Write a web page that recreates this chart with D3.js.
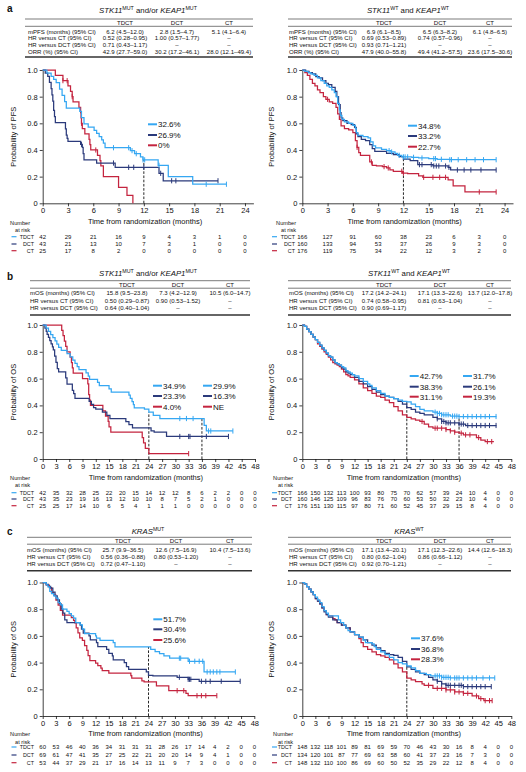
<!DOCTYPE html>
<html><head><meta charset="utf-8">
<script src="https://cdn.jsdelivr.net/npm/d3@7"></script>
<style>
body{margin:0;background:#fff}
text{font-family:"Liberation Sans",Arial,Helvetica,sans-serif;fill:#111}
</style>
</head><body><script>
// ================= DATA =================
const arms = ["TDCT","DCT","CT"];
const pfsTicks = [0,3,6,9,12,15,18,21,24];
const osTicks = [0,3,6,9,12,15,18,21,24,27,30,33,36,39,42,45,48];
const yTicks = [0,0.2,0.4,0.6,0.8,1.0];
const yTickLabels = ["0","0.2","0.4","0.6","0.8","1.0"];

// ---- a left: PFS, STK11mut and/or KEAP1mut  [time, survival]
const aL_TDCT = [[0,1],[0.5,0.976],[1,0.952],[1.3,0.929],[1.6,0.905],[2,0.857],[2.3,0.81],[2.6,0.762],[2.8,0.714],[4.4,0.69],[4.6,0.643],[4.9,0.595],[5.4,0.571],[6.1,0.548],[6.4,0.524],[6.7,0.5],[7.0,0.476],[7.2,0.452],[7.4,0.417],[10.4,0.395],[10.9,0.372],[11.6,0.349],[11.9,0.326],[13.7,0.285],[14.9,0.2],[17.8,0.143]];
const aL_TDCT_end = 21.8;
const aL_TDCT_cens = [8.4,10.2,10.6,11.1,11.9,12.1,13.8,19.4,21.8];
const aL_DCT = [[0,1],[0.3,0.977],[0.6,0.953],[0.8,0.907],[1.0,0.86],[1.1,0.814],[1.2,0.767],[1.3,0.698],[1.4,0.651],[1.5,0.605],[2.7,0.558],[2.8,0.512],[2.9,0.488],[3.0,0.465],[4.5,0.442],[4.7,0.419],[4.8,0.372],[4.9,0.326],[6.4,0.302],[8.6,0.27],[13.8,0.225],[14.3,0.169]];
const aL_DCT_end = 20.8;
const aL_DCT_cens = [4.6,8.4,10.2,10.8,12.0,14.0,15.3,15.8,20.8];
const aL_CT = [[0,1],[1.5,0.96],[2.4,0.92],[3.0,0.88],[3.3,0.84],[3.5,0.8],[3.6,0.76],[4.3,0.72],[4.5,0.68],[4.55,0.64],[4.6,0.6],[4.7,0.56],[5.0,0.52],[5.5,0.48],[5.6,0.44],[5.7,0.4],[6.5,0.36],[6.8,0.32],[6.9,0.28],[7.2,0.2],[9.0,0.12],[10.0,0.06],[10.7,0]];
const aL_CT_end = 10.7;
const aL_CT_cens = [2.4,2.9,3.5,4.6,6.3];
const aL_risk_TDCT = [42,29,21,16,9,4,3,1,0];
const aL_risk_DCT = [43,21,13,10,7,3,1,0,0];
const aL_risk_CT = [25,17,8,2,0,0,0,0,0];
const aL_legend = ["32.6%","26.9%","0%"];
const aL_landmarks = [12];

// ---- a right: PFS, STK11wt and KEAP1wt
const aR_TDCT = [[0,1],[0.3,0.99],[0.7,0.98],[1.0,0.97],[1.4,0.96],[1.8,0.94],[2.2,0.92],[2.6,0.9],[2.9,0.88],[3.2,0.87],[3.5,0.85],[3.8,0.83],[4.0,0.8],[4.2,0.75],[4.4,0.7],[4.5,0.66],[4.7,0.63],[5.0,0.61],[5.5,0.6],[6.0,0.585],[6.3,0.56],[6.4,0.53],[6.6,0.51],[7.2,0.5],[7.8,0.49],[8.1,0.46],[8.4,0.43],[8.7,0.415],[9.4,0.405],[10.0,0.395],[10.5,0.385],[11.0,0.375],[11.3,0.36],[11.8,0.348],[13.0,0.345],[13.8,0.34],[15.0,0.335],[16.0,0.33],[17.5,0.327]];
const aR_TDCT_end = 23.0;
const aR_TDCT_cens = [10.3,10.6,11.5,12.0,12.2,12.5,13.2,14.2,15.6,15.8,16.5,17.5,17.7,18.5,19.5,20.5,21.5,23.0];
const aR_DCT = [[0,1],[0.4,0.99],[0.8,0.98],[1.2,0.97],[1.6,0.95],[2.0,0.94],[2.4,0.92],[2.8,0.9],[3.1,0.89],[3.5,0.87],[3.9,0.84],[4.1,0.8],[4.3,0.74],[4.5,0.68],[4.6,0.64],[4.8,0.62],[5.3,0.6],[5.8,0.59],[6.2,0.57],[6.4,0.52],[6.6,0.5],[7.0,0.48],[7.5,0.47],[8.0,0.44],[8.3,0.41],[8.6,0.39],[10.0,0.375],[10.8,0.365],[11.5,0.35],[12.0,0.332],[12.8,0.32],[13.7,0.29],[15.5,0.28],[17.3,0.27],[17.6,0.25]];
const aR_DCT_end = 23.0;
const aR_DCT_cens = [13.9,14.2,15.3,15.6,15.9,16.2,17.0,17.4,18.4,19.2,20.0,21.2,23.0];
const aR_CT = [[0,1],[0.3,0.98],[0.6,0.96],[0.9,0.93],[1.2,0.9],[1.5,0.88],[1.8,0.85],[2.1,0.83],[2.5,0.8],[2.8,0.78],[3.2,0.76],[3.6,0.75],[4.0,0.72],[4.2,0.67],[4.4,0.63],[4.6,0.58],[5.0,0.56],[5.5,0.55],[6.0,0.53],[6.3,0.47],[6.5,0.42],[6.7,0.38],[6.9,0.36],[8.0,0.31],[8.3,0.285],[8.8,0.28],[9.5,0.275],[10.0,0.265],[10.4,0.25],[10.8,0.24],[11.9,0.227],[12.5,0.222],[13.8,0.205],[14.3,0.195],[17.3,0.175],[17.9,0.13],[19.3,0.085]];
const aR_CT_end = 23.0;
const aR_CT_cens = [3.0,6.5,8.2,9.7,10.2,11.8,12.0,14.4,15.5,16.3,17.0,21.0,23.0];
const aR_risk_TDCT = [166,127,91,60,38,23,6,3,0];
const aR_risk_DCT = [160,133,94,53,37,26,9,3,0];
const aR_risk_CT = [176,119,75,34,22,12,3,2,0];
const aR_legend = ["34.8%","33.2%","22.7%"];
const aR_landmarks = [12];

// ---- b left: OS, STK11mut and/or KEAP1mut
const bL_TDCT = [[0,1],[0.8,0.976],[1.3,0.952],[1.8,0.929],[2.3,0.905],[2.8,0.881],[3.2,0.857],[3.6,0.833],[4.2,0.81],[5.5,0.786],[6.2,0.762],[6.8,0.738],[7.3,0.714],[7.8,0.69],[8.2,0.667],[9.8,0.643],[10.3,0.619],[10.6,0.595],[12.4,0.571],[12.8,0.548],[15.0,0.524],[15.5,0.5],[19.5,0.476],[19.8,0.452],[20.2,0.429],[20.5,0.405],[20.7,0.381],[23.0,0.372],[24.0,0.349],[25.0,0.326],[26.5,0.302],[36.5,0.251],[37.0,0.209]];
const bL_TDCT_end = 43.0;
const bL_TDCT_cens = [31.0,32.5,34.0,37.5,38.0,43.0];
const bL_DCT = [[0,1],[0.5,0.977],[0.8,0.953],[1.0,0.93],[1.3,0.907],[1.6,0.884],[1.9,0.86],[2.2,0.837],[2.4,0.814],[2.7,0.767],[3.0,0.721],[3.3,0.674],[3.6,0.651],[5.2,0.605],[5.5,0.558],[6.7,0.512],[7.0,0.488],[7.3,0.453],[10.5,0.43],[11.0,0.407],[11.5,0.384],[12.0,0.372],[13.5,0.349],[14.5,0.326],[15.2,0.302],[18.8,0.279],[19.5,0.256],[20.3,0.233],[24.5,0.21],[25.2,0.2],[28.0,0.168]];
const bL_DCT_end = 42.0;
const bL_DCT_cens = [31.0,33.0,33.3,37.0,42.0];
const bL_CT = [[0,1],[4.3,0.96],[4.6,0.92],[4.9,0.88],[5.2,0.84],[5.5,0.8],[6.2,0.76],[6.5,0.72],[6.7,0.68],[6.9,0.64],[9.0,0.6],[10.2,0.56],[10.4,0.48],[10.6,0.44],[10.8,0.4],[13.6,0.36],[14.2,0.32],[14.8,0.28],[15.0,0.24],[15.4,0.2],[22.5,0.16],[22.8,0.12],[23.2,0.08],[24.0,0.04]];
const bL_CT_end = 33.0;
const bL_CT_cens = [33.0];
const bL_risk_TDCT = [42,35,32,28,25,22,20,15,14,12,12,8,6,2,2,0,0];
const bL_risk_DCT = [43,35,23,19,16,13,12,10,10,8,7,5,2,1,0,0,0];
const bL_risk_CT = [25,25,17,14,10,6,5,4,1,1,1,0,0,0,0,0,0];
const bL_legend24 = ["34.9%","23.3%","4.0%"];
const bL_legend36 = ["29.9%","16.3%","NE"];
const bL_landmarks = [24,36];

// ---- b right: OS, STK11wt and KEAP1wt
const bR_TDCT = [[0,1],[0.5,0.99],[1,0.97],[1.5,0.95],[2,0.93],[2.5,0.91],[3,0.89],[3.5,0.87],[4,0.85],[4.5,0.83],[5,0.81],[5.5,0.79],[6,0.77],[6.5,0.76],[7,0.74],[7.5,0.72],[8,0.71],[8.5,0.7],[9,0.69],[9.5,0.68],[10,0.66],[10.5,0.65],[11,0.64],[11.5,0.63],[12,0.62],[13,0.6],[14,0.58],[15,0.56],[15.5,0.55],[16,0.53],[17,0.51],[18,0.49],[19,0.47],[20,0.46],[21,0.45],[22,0.44],[23,0.43],[24,0.427],[25,0.41],[26,0.39],[27,0.37],[28,0.36],[30,0.35],[31,0.34],[32,0.33],[34,0.32],[36,0.317]];
const bR_TDCT_end = 44.6;
const bR_TDCT_cens = [30.5,31,31.5,32,32.5,33,33.5,34.5,35,35.5,36,37,38,39,40,41,42,43,44.5];
const bR_DCT = [[0,1],[0.5,0.99],[1,0.97],[1.5,0.95],[2,0.93],[2.5,0.91],[3,0.89],[3.5,0.87],[4,0.85],[4.5,0.83],[5,0.81],[5.5,0.79],[6,0.77],[6.5,0.76],[7,0.74],[7.5,0.72],[8,0.71],[8.5,0.7],[9,0.68],[9.5,0.67],[10,0.65],[10.5,0.64],[11,0.63],[12,0.61],[13,0.58],[14,0.56],[15,0.54],[16,0.52],[17,0.5],[18,0.48],[19,0.47],[20,0.46],[21,0.45],[22,0.43],[23,0.41],[24,0.383],[25,0.37],[26,0.35],[27,0.34],[28,0.33],[30,0.31],[31,0.3],[32,0.28],[33,0.27],[36,0.261],[37.5,0.25]];
const bR_DCT_end = 44.6;
const bR_DCT_cens = [31,32,32.5,33,33.5,34,35,36,36.5,37,38,39,40,41,42,43,44.5];
const bR_CT = [[0,1],[0.5,0.99],[1,0.97],[1.5,0.95],[2,0.93],[2.5,0.91],[3,0.89],[3.5,0.86],[4,0.84],[4.5,0.82],[5,0.8],[5.5,0.78],[6,0.76],[6.5,0.74],[7,0.72],[7.5,0.71],[8,0.7],[8.5,0.69],[9,0.67],[9.5,0.65],[10,0.63],[10.5,0.62],[11,0.61],[12,0.59],[13,0.56],[14,0.53],[15,0.51],[16,0.49],[17,0.47],[18,0.46],[19,0.44],[20,0.42],[21,0.39],[22,0.36],[23,0.33],[24,0.311],[25,0.3],[26,0.29],[27,0.28],[28,0.26],[29,0.24],[30,0.23],[33,0.22],[34,0.21],[35,0.2],[36,0.193],[37,0.18],[40,0.16],[41,0.14],[42,0.13]];
const bR_CT_end = 44.0;
const bR_CT_cens = [27.5,30.5,31,32,33,34,35,36.5,37.5,38.5,40.5,42.5,43.5];
const bR_risk_TDCT = [166,150,132,113,100,93,80,75,70,62,57,39,24,10,4,0,0];
const bR_risk_DCT = [160,146,125,109,96,83,76,70,60,53,50,32,23,10,4,0,0];
const bR_risk_CT = [176,151,130,115,97,80,71,60,52,45,37,29,15,8,4,0,0];
const bR_legend24 = ["42.7%","38.3%","31.1%"];
const bR_legend36 = ["31.7%","26.1%","19.3%"];
const bR_landmarks = [24,36];

// ---- c left: OS, KRASmut
const cL_TDCT = [[0,1],[0.8,0.983],[1.2,0.967],[1.6,0.933],[2.0,0.917],[2.5,0.9],[3.0,0.883],[3.5,0.85],[4.0,0.833],[4.5,0.8],[5.5,0.783],[6.0,0.767],[6.5,0.75],[7.0,0.733],[7.5,0.7],[8.5,0.683],[9.0,0.65],[9.5,0.617],[12.0,0.6],[12.2,0.583],[13.0,0.567],[16.0,0.55],[16.4,0.517],[24.5,0.5],[25.5,0.483],[26.5,0.467],[27.5,0.45],[28.8,0.433],[33.0,0.41],[36.6,0.33]];
const cL_TDCT_end = 43.7;
const cL_TDCT_cens = [31.0,31.3,33.3,34.5,35.5,36.3,37.3,38,38.7,39.5,40.2,43.7];
const cL_DCT = [[0,1],[0.8,0.986],[1.3,0.971],[1.8,0.957],[2.3,0.928],[2.8,0.9],[3.3,0.87],[3.8,0.84],[4.2,0.8],[4.6,0.77],[5.0,0.72],[5.5,0.7],[8.5,0.68],[8.8,0.65],[9.2,0.62],[10.5,0.6],[10.8,0.57],[12.2,0.55],[12.5,0.52],[14.5,0.5],[15.0,0.47],[15.8,0.45],[16.0,0.42],[18.5,0.4],[19.0,0.37],[19.5,0.35],[23.5,0.33],[24.0,0.304],[25.0,0.3],[30.5,0.29],[33.0,0.275],[35.5,0.26]];
const cL_DCT_end = 44.8;
const cL_DCT_cens = [31.0,33.0,33.3,33.6,36.0,37.0,38.0,40.5,44.8];
const cL_CT = [[0,1],[0.8,0.981],[1.5,0.962],[2.0,0.925],[2.5,0.906],[3.0,0.868],[3.5,0.83],[4.0,0.792],[4.5,0.755],[6.5,0.736],[7.0,0.717],[7.3,0.698],[7.6,0.66],[8.0,0.623],[8.4,0.585],[9.0,0.566],[9.5,0.528],[10.0,0.491],[10.3,0.453],[10.7,0.415],[12.0,0.396],[12.5,0.377],[13.2,0.358],[13.5,0.34],[15.0,0.321],[20.0,0.302],[20.2,0.283],[22.5,0.264],[23.0,0.256],[25.8,0.226],[28.6,0.19],[32.5,0.17],[33.0,0.152]];
const cL_CT_end = 39.5;
const cL_CT_cens = [30.5,32.0,35.0,36.0,37.0,39.5];
const cL_risk_TDCT = [60,53,46,40,36,34,31,31,31,28,26,17,14,4,2,0,0];
const cL_risk_DCT = [69,61,47,41,35,27,25,22,21,20,20,14,9,4,1,0,0];
const cL_risk_CT = [53,44,37,29,21,17,16,14,13,11,9,7,3,0,0,0,0];
const cL_legend = ["51.7%","30.4%","25.6%"];
const cL_landmarks = [24];

// ---- c right: OS, KRASwt
const cR_TDCT = [[0,1],[0.5,0.99],[1,0.97],[1.5,0.95],[2,0.93],[2.5,0.91],[3,0.89],[3.5,0.87],[4,0.85],[4.5,0.82],[5,0.79],[5.5,0.77],[6,0.75],[8.3,0.72],[8.8,0.7],[9.5,0.68],[10,0.66],[10.5,0.64],[11,0.63],[12,0.61],[13,0.59],[14,0.57],[14.5,0.55],[16,0.54],[16.5,0.52],[17,0.5],[18,0.48],[19,0.46],[20,0.44],[21,0.42],[22,0.4],[23,0.39],[24,0.376],[25,0.36],[26,0.34],[27,0.32],[28.5,0.31],[29.5,0.3],[32,0.29],[34,0.285]];
const cR_TDCT_end = 44.2;
const cR_TDCT_cens = [30.5,31,31.5,32,32.5,33,33.5,34,35,35.5,36,37,38,39,40,41.5,43,44.2];
const cR_DCT = [[0,1],[0.5,0.99],[1,0.97],[1.5,0.95],[2,0.93],[2.5,0.91],[3,0.88],[3.5,0.86],[4,0.84],[4.5,0.81],[5,0.78],[5.5,0.76],[6,0.74],[7,0.72],[8,0.7],[9,0.68],[10,0.66],[11,0.63],[12,0.61],[13,0.59],[14,0.57],[15,0.55],[16,0.53],[17,0.51],[18,0.49],[19,0.47],[20,0.46],[21,0.455],[22,0.44],[23,0.41],[24,0.368],[25,0.35],[26,0.33],[27,0.32],[28,0.31],[29,0.29],[30,0.27],[31,0.26],[32,0.24],[33,0.23],[37,0.22]];
const cR_DCT_end = 43.4;
const cR_DCT_cens = [31,32,33,33.5,34,35,36,36.5,37,38,39,40,41,42,43.4];
const cR_CT = [[0,1],[0.5,0.99],[1,0.97],[1.5,0.95],[2,0.93],[2.5,0.91],[3,0.88],[3.5,0.86],[4,0.84],[4.5,0.81],[5,0.79],[5.5,0.76],[6,0.75],[7,0.73],[7.5,0.72],[8,0.7],[9,0.68],[10,0.66],[11,0.63],[12,0.61],[13,0.58],[13.5,0.55],[14,0.52],[15,0.5],[16,0.48],[17,0.46],[18,0.45],[19,0.44],[20,0.42],[21,0.39],[22,0.36],[23,0.33],[24,0.283],[25,0.27],[26,0.257],[27.5,0.24],[28,0.23],[30,0.207],[33,0.195],[35,0.18],[37,0.17],[39,0.15],[40.5,0.13],[41.7,0.115]];
const cR_CT_end = 43.6;
const cR_CT_cens = [29,31,32,33,34,35,36,37,38,40,41,42,43,43.6];
const cR_risk_TDCT = [148,132,118,101,89,81,69,59,70,46,43,30,16,8,4,0,0];
const cR_risk_DCT = [134,120,101,87,77,69,63,58,60,41,37,23,16,7,3,0,0];
const cR_risk_CT = [148,132,110,100,86,69,60,50,52,35,29,22,12,8,4,0,0];
const cR_legend = ["37.6%","36.8%","28.3%"];
const cR_landmarks = [24];

// ---- tables
const tblHeader = ["TDCT","DCT","CT"];
const aL_table = [["mPFS (months) (95% CI)","6.2 (4.5–12.0)","2.8 (1.5–4.7)","5.1 (4.1–6.4)"],["HR versus CT (95% CI)","0.52 (0.28–0.95)","1.00 (0.57–1.77)","–"],["HR versus DCT (95% CI)","0.71 (0.43–1.17)","–","–"],["ORR (%) (95% CI)","42.9 (27.7–59.0)","30.2 (17.2–46.1)","28.0 (12.1–49.4)"]];
const aR_table = [["mPFS (months) (95% CI)","6.9 (6.1–8.5)","6.5 (6.3–8.2)","6.1 (4.8–6.5)"],["HR versus CT (95% CI)","0.69 (0.53–0.89)","0.74 (0.57–0.96)","–"],["HR versus DCT (95% CI)","0.93 (0.71–1.21)","–","–"],["ORR (%) (95% CI)","47.9 (40.0–55.8)","49.4 (41.2–57.5)","23.6 (17.5–30.6)"]];
const bL_table = [["mOS (months) (95% CI)","15.8 (9.5–23.8)","7.3 (4.2–12.9)","10.5 (6.0–14.7)"],["HR versus CT (95% CI)","0.50 (0.29–0.87)","0.90 (0.53–1.52)","–"],["HR versus DCT (95% CI)","0.64 (0.40–1.04)","–","–"]];
const bR_table = [["mOS (months) (95% CI)","17.2 (14.2–24.1)","17.1 (13.3–22.6)","13.7 (12.0–17.8)"],["HR versus CT (95% CI)","0.74 (0.58–0.95)","0.81 (0.63–1.04)","–"],["HR versus DCT (95% CI)","0.90 (0.69–1.17)","–","–"]];
const cL_table = [["mOS (months) (95% CI)","25.7 (9.9–36.5)","12.6 (7.5–16.9)","10.4 (7.5–13.6)"],["HR versus CT (95% CI)","0.56 (0.36–0.88)","0.80 (0.53–1.20)","–"],["HR versus DCT (95% CI)","0.72 (0.47–1.10)","–","–"]];
const cR_table = [["mOS (months) (95% CI)","17.1 (13.4–20.1)","17.1 (12.3–22.6)","14.4 (12.6–18.3)"],["HR versus CT (95% CI)","0.80 (0.62–1.04)","0.86 (0.66–1.12)","–"],["HR versus DCT (95% CI)","0.92 (0.70–1.21)","–","–"]];

const titleMut = [["STK11","i"],["MUT","sup"],[" and/or ",""],["KEAP1","i"],["MUT","sup"]];
const titleWt = [["STK11","i"],["WT","sup"],[" and ",""],["KEAP1","i"],["WT","sup"]];
const titleKrasMut = [["KRAS","i"],["MUT","sup"]];
const titleKrasWt = [["KRAS","i"],["WT","sup"]];

// ================= DRAWING =================
const COL = {TDCT:"#35a7f2", DCT:"#2b3a7b", CT:"#c4243f"};
const TFS = 6.05;
const svg = d3.select("body").append("svg").attr("width",526).attr("height",772);

function survAt(curve,t){let s=1;for(const [tt,ss] of curve){if(tt<=t)s=ss;else break;}return s;}

function richText(g,x,y,parts,size,anchor){
  const t=g.append("text").attr("x",x).attr("y",y).attr("font-size",size).attr("text-anchor",anchor||"middle");
  let shifted=false;
  parts.forEach(([s,st])=>{
    const ts=t.append("tspan").text(s);
    if(st==="i") ts.attr("font-style","italic");
    if(st==="sup"){ts.attr("font-size",size*0.68).attr("dy",-size*0.38);shifted=true;}
    else if(shifted){ts.attr("dy",size*0.38);shifted=false;}
  });
  return t;
}

function drawTable(T){
  const g=svg.append("g");
  richText(g,T.titleX,T.titleY,T.title,7.8);
  g.append("line").attr("x1",T.x0).attr("x2",T.x1).attr("y1",T.top).attr("y2",T.top).attr("stroke","#222").attr("stroke-width",0.6);
  g.append("line").attr("x1",T.x0).attr("x2",T.x1).attr("y1",T.headRule).attr("y2",T.headRule).attr("stroke","#222").attr("stroke-width",0.6);
  g.append("line").attr("x1",T.x0).attr("x2",T.x1).attr("y1",T.bot).attr("y2",T.bot).attr("stroke","#333").attr("stroke-width",1.4);
  tblHeader.forEach((h,i)=>g.append("text").attr("x",T.cols[i]).attr("y",T.headY).attr("font-size",TFS).attr("text-anchor","middle").text(h));
  T.rows.forEach((r,ri)=>{
    g.append("text").attr("x",T.labelX).attr("y",T.rowY[ri]).attr("font-size",TFS).text(r[0]);
    for(let c=1;c<4;c++) g.append("text").attr("x",T.cols[c-1]).attr("y",T.rowY[ri]).attr("font-size",TFS).attr("text-anchor","middle").text(r[c]);
  });
}

function drawPanel(P){
  const g=svg.append("g");
  const x=d3.scaleLinear().domain([0,P.xmax]).range([P.x0,P.x1]);
  const y=d3.scaleLinear().domain([0,1]).range([P.yBot,P.yTop]);
  const xa=g.append("g").attr("transform",`translate(0,${P.yBot})`)
    .call(d3.axisBottom(x).tickValues(P.ticks).tickSize(3).tickSizeOuter(0).tickPadding(1.5));
  const ya=g.append("g").attr("transform",`translate(${P.x0},0)`)
    .call(d3.axisLeft(y).tickValues(yTicks).tickFormat((d,i)=>yTickLabels[i]).tickSize(3).tickSizeOuter(0).tickPadding(2));
  [xa,ya].forEach(a=>{a.selectAll("path,line").attr("stroke","#111").attr("stroke-width",0.8);
    a.selectAll("text").attr("font-size",7.5).attr("fill","#111").attr("font-family",'"Liberation Sans",Arial,sans-serif');});
  g.append("text").attr("x",(P.x0+P.x1)/2-3).attr("y",P.xlabY).attr("font-size",7.5).attr("text-anchor","middle").text("Time from randomization (months)");
  g.append("text").attr("transform",`translate(${P.ylabX},${(P.yTop+P.yBot)/2}) rotate(-90)`).attr("font-size",7.5).attr("text-anchor","middle").text(P.ylab);

  // landmarks
  P.landmarks.forEach(t=>{
    const top=d3.max(P.curves,c=>survAt(c,t));
    g.append("line").attr("x1",x(t)).attr("x2",x(t)).attr("y1",y(0)).attr("y2",y(top))
      .attr("stroke","#111").attr("stroke-width",0.9).attr("stroke-dasharray","2.6,1.6");
  });
  // curves (draw CT first then DCT then TDCT)
  const line=d3.line().x(d=>x(d[0])).y(d=>y(d[1])).curve(d3.curveStepAfter);
  [2,1,0].forEach(i=>{
    const c=P.curves[i], arm=arms[i];
    const pts=c.concat([[P.ends[i],c[c.length-1][1]]]);
    g.append("path").datum(pts).attr("d",line).attr("fill","none").attr("stroke",COL[arm]).attr("stroke-width",1.25).attr("stroke-linejoin","miter");
    g.selectAll(null).data(P.cens[i]).enter().append("line")
      .attr("x1",d=>x(d)).attr("x2",d=>x(d)).attr("y1",d=>y(survAt(c,d))-2.6).attr("y2",d=>y(survAt(c,d))+2.6)
      .attr("stroke",COL[arm]).attr("stroke-width",1);
  });
  // legend
  P.legends.forEach(L=>{
    L.labels.forEach((lab,i)=>{
      g.append("line").attr("x1",L.lx).attr("x2",L.lx+9).attr("y1",L.ys[i]).attr("y2",L.ys[i]).attr("stroke",COL[arms[i]]).attr("stroke-width",2);
      g.append("text").attr("x",L.lx+10).attr("y",L.ys[i]+2.9).attr("font-size",8).text(lab);
    });
  });
  // number at risk
  g.append("text").attr("x",P.nrX).attr("y",P.nrY).attr("font-size",5.6).attr("text-anchor","end").text("Number");
  g.append("text").attr("x",P.nrX).attr("y",P.nrY+7.3).attr("font-size",5.6).attr("text-anchor","end").text("at risk");
  P.risk.forEach((row,i)=>{
    const yy=P.riskY[i];
    g.append("line").attr("x1",P.mkX).attr("x2",P.mkX+5).attr("y1",yy).attr("y2",yy).attr("stroke",COL[arms[i]]).attr("stroke-width",1.2);
    g.append("text").attr("x",P.rlX).attr("y",yy+1.9).attr("font-size",5.4).attr("text-anchor","end").text(arms[i]);
    g.selectAll(null).data(row).enter().append("text")
      .attr("x",(d,j)=>x(P.ticks[j])).attr("y",yy+2).attr("font-size",6).attr("text-anchor","middle").text(d=>d);
  });
}

// panel letters
[["a",11.5],["b",280],["c",535]].forEach(([l,yy])=>svg.append("text").attr("x",7).attr("y",yy).attr("font-size",10).attr("font-weight","bold").text(l));

// tables
const LC=[125,177,229], RC=[384,440,490];
drawTable({title:titleMut,titleX:148,titleY:12.5,x0:25,x1:253,top:19,headY:24.8,headRule:26.3,labelX:28,cols:LC,rows:aL_table,rowY:[34.1,40.4,46.8,54.2],bot:57});
drawTable({title:titleWt,titleX:408,titleY:12.5,x0:288,x1:512,top:19,headY:24.8,headRule:26.3,labelX:289,cols:RC,rows:aR_table,rowY:[34.1,40.4,46.8,54.2],bot:57});
drawTable({title:titleMut,titleX:148,titleY:276,x0:30,x1:250,top:280.7,headY:286.6,headRule:288.2,labelX:30,cols:[127,178,230],rows:bL_table,rowY:[295.4,303,310.4],bot:315});
drawTable({title:titleWt,titleX:409,titleY:276,x0:288,x1:511,top:280.7,headY:286.6,headRule:288.2,labelX:289,cols:RC,rows:bR_table,rowY:[295.4,303,310.4],bot:315});
drawTable({title:titleKrasMut,titleX:148,titleY:534.3,x0:27,x1:252,top:537.3,headY:542.8,headRule:544.2,labelX:27,cols:[123,176,230],rows:cL_table,rowY:[552.1,559.4,566.4],bot:570.7});
drawTable({title:titleKrasWt,titleX:409,titleY:534.3,x0:288,x1:511,top:537.3,headY:542.8,headRule:544.2,labelX:289,cols:RC,rows:cR_table,rowY:[552.1,559.4,566.4],bot:570.7});

// panels
drawPanel({x0:42.7,x1:253.4,xmax:25,yTop:70,yBot:203.3,ticks:pfsTicks,ylab:"Probability of PFS",ylabX:16,xlabY:224.3,
  curves:[aL_TDCT,aL_DCT,aL_CT],ends:[aL_TDCT_end,aL_DCT_end,aL_CT_end],cens:[aL_TDCT_cens,aL_DCT_cens,aL_CT_cens],
  landmarks:aL_landmarks,legends:[{lx:148,labels:aL_legend,ys:[124.3,135,145.3]}],
  risk:[aL_risk_TDCT,aL_risk_DCT,aL_risk_CT],riskY:[236.7,244,250.7],nrX:30,nrY:224.7,mkX:11.5,rlX:34});
drawPanel({x0:302.3,x1:513,xmax:25,yTop:70,yBot:203.3,ticks:pfsTicks,ylab:"Probability of PFS",ylabX:274,xlabY:224.3,
  curves:[aR_TDCT,aR_DCT,aR_CT],ends:[aR_TDCT_end,aR_DCT_end,aR_CT_end],cens:[aR_TDCT_cens,aR_DCT_cens,aR_CT_cens],
  landmarks:aR_landmarks,legends:[{lx:408,labels:aR_legend,ys:[125.7,136,146.7]}],
  risk:[aR_risk_TDCT,aR_risk_DCT,aR_risk_CT],riskY:[236.7,244,250.7],nrX:296,nrY:224.7,mkX:272,rlX:295});
drawPanel({x0:42.7,x1:255,xmax:48,yTop:325,yBot:459,ticks:osTicks,ylab:"Probability of OS",ylabX:16,xlabY:479.5,
  curves:[bL_TDCT,bL_DCT,bL_CT],ends:[bL_TDCT_end,bL_DCT_end,bL_CT_end],cens:[bL_TDCT_cens,bL_DCT_cens,bL_CT_cens],
  landmarks:bL_landmarks,legends:[{lx:153,labels:bL_legend24,ys:[385.7,396,406.7]},{lx:203,labels:bL_legend36,ys:[385.7,396,406.7]}],
  risk:[bL_risk_TDCT,bL_risk_DCT,bL_risk_CT],riskY:[492.7,499,505.7],nrX:30,nrY:479.5,mkX:11.5,rlX:34});
drawPanel({x0:302.3,x1:511.3,xmax:48,yTop:325,yBot:459,ticks:osTicks,ylab:"Probability of OS",ylabX:274,xlabY:479.5,
  curves:[bR_TDCT,bR_DCT,bR_CT],ends:[bR_TDCT_end,bR_DCT_end,bR_CT_end],cens:[bR_TDCT_cens,bR_DCT_cens,bR_CT_cens],
  landmarks:bR_landmarks,legends:[{lx:409.7,labels:bR_legend24,ys:[376,386.7,396.7]},{lx:463,labels:bR_legend36,ys:[376,386.7,396.7]}],
  risk:[bR_risk_TDCT,bR_risk_DCT,bR_risk_CT],riskY:[492.7,499,505.7],nrX:293,nrY:479.5,mkX:272,rlX:292});
drawPanel({x0:42.7,x1:254.3,xmax:48,yTop:582.5,yBot:716,ticks:osTicks,ylab:"Probability of OS",ylabX:16,xlabY:736.3,
  curves:[cL_TDCT,cL_DCT,cL_CT],ends:[cL_TDCT_end,cL_DCT_end,cL_CT_end],cens:[cL_TDCT_cens,cL_DCT_cens,cL_CT_cens],
  landmarks:cL_landmarks,legends:[{lx:153.3,labels:cL_legend,ys:[619.3,629.3,640]}],
  risk:[cL_risk_TDCT,cL_risk_DCT,cL_risk_CT],riskY:[747,755,762.7],nrX:30,nrY:736.3,mkX:11.5,rlX:34});
drawPanel({x0:302.3,x1:511.3,xmax:48,yTop:582.5,yBot:716,ticks:osTicks,ylab:"Probability of OS",ylabX:274,xlabY:736.3,
  curves:[cR_TDCT,cR_DCT,cR_CT],ends:[cR_TDCT_end,cR_DCT_end,cR_CT_end],cens:[cR_TDCT_cens,cR_DCT_cens,cR_CT_cens],
  landmarks:cR_landmarks,legends:[{lx:411,labels:cR_legend,ys:[638.3,649,659.3]}],
  risk:[cR_risk_TDCT,cR_risk_DCT,cR_risk_CT],riskY:[747,755,762.7],nrX:293,nrY:736.3,mkX:272,rlX:292});
</script></body></html>
